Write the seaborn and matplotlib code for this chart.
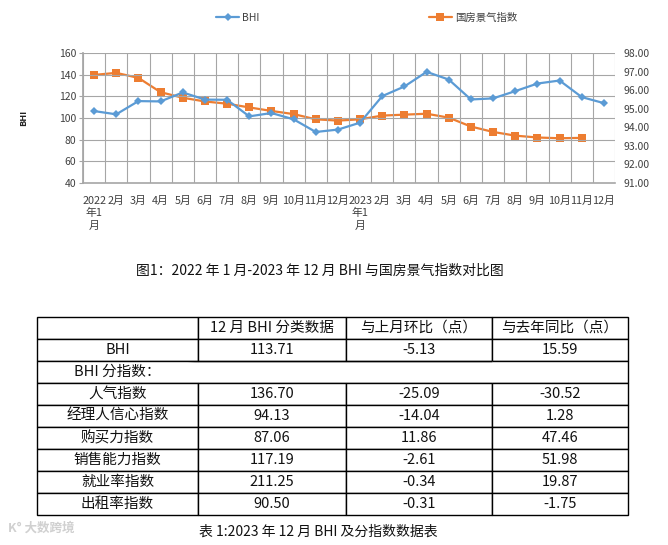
import numpy as np
import pandas as pd
import matplotlib
matplotlib.use("Agg")
import matplotlib.pyplot as plt
from matplotlib.lines import Line2D
import seaborn as sns

# ---------------- data ----------------
months = ["2022\n年1\n月", "2月", "3月", "4月", "5月", "6月", "7月", "8月", "9月", "10月", "11月", "12月",
          "2023\n年1\n月", "2月", "3月", "4月", "5月", "6月", "7月", "8月", "9月", "10月", "11月", "12月"]
bhi = [106.4, 103.4, 115.6, 115.3, 123.6, 117.0, 116.8, 101.5, 104.6, 98.8, 87.1, 89.3,
       95.7, 120.2, 129.1, 142.6, 135.5, 117.1, 118.1, 124.8, 131.8, 134.6, 119.3, 113.71]
gfjq = [96.82, 96.93, 96.66, 95.89, 95.59, 95.39, 95.27, 95.07, 94.88, 94.71, 94.43, 94.36,
        94.43, 94.63, 94.68, 94.73, 94.52, 94.04, 93.75, 93.55, 93.45, 93.41, 93.43, np.nan]
left_ticks = [40, 60, 80, 100, 120, 140, 160]
right_ticks = [91, 92, 93, 94, 95, 96, 97, 98]

table_header = ["", "12 月 BHI 分类数据", "与上月环比（点）", "与去年同比（点）"]
row_names = ["BHI", "BHI 分指数：", "人气指数", "经理人信心指数", "购买力指数", "销售能力指数", "就业率指数", "出租率指数"]
dec_values = [113.71, None, 136.70, 94.13, 87.06, 117.19, 211.25, 90.50]
mom_values = [-5.13, None, -25.09, -14.04, 11.86, -2.61, -0.34, -0.31]
yoy_values = [15.59, None, -30.52, 1.28, 47.46, 51.98, 19.87, -1.75]

caption1 = "图1：2022 年 1 月-2023 年 12 月 BHI 与国房景气指数对比图"
caption2 = "表 1:2023 年 12 月 BHI 及分指数数据表"

# ---------------- style ----------------
sns.set_theme(style="white")
plt.rcParams["font.family"] = ["Noto Sans CJK SC", "DejaVu Sans"]
plt.rcParams["axes.unicode_minus"] = False

BLUE = "#5B9BD5"
ORANGE = "#ED7D31"
GRID = "#A6A6A6"
TXT = "#404040"

W, H = 668, 545
fig = plt.figure(figsize=(W / 100, H / 100), dpi=100)

def fx(px):
    return px / W

def fy(py):
    return 1 - py / H

# ---------------- line chart ----------------
L, R, T, B = 83, 615, 53, 183
ax = fig.add_axes([fx(L), fy(B), fx(R - L), (B - T) / H])
ax2 = ax.twinx()

df = pd.DataFrame({"pos": np.arange(len(months)), "BHI": bhi, "国房景气指数": gfjq})

sns.lineplot(data=df, x="pos", y="国房景气指数", ax=ax2, color=ORANGE, linewidth=1.6,
             marker="s", markersize=5.5, markeredgewidth=0, zorder=3)
sns.lineplot(data=df, x="pos", y="BHI", ax=ax, color=BLUE, linewidth=1.6,
             marker="D", markersize=4, markeredgewidth=0, zorder=3)
ax.set_zorder(ax2.get_zorder() + 1)
ax.patch.set_visible(False)

n = len(months)
ax.set_xlim(-0.5, n - 0.5)
ax.set_ylim(left_ticks[0], left_ticks[-1])
ax2.set_ylim(right_ticks[0], right_ticks[-1])

ax.set_xticks(np.arange(-0.5, n, 1.0))
ax.set_xticklabels([])
ax.set_xticks(np.arange(n), minor=True)
ax.set_xticklabels(months, minor=True, fontsize=7.8, color=TXT, linespacing=1.3)
ax.tick_params(axis="x", which="major", length=3, width=0.8, color=GRID, direction="out")
ax.tick_params(axis="x", which="minor", length=0, pad=9)

ax.set_yticks(left_ticks)
ax.set_yticklabels([str(v) for v in left_ticks], fontsize=7.5, color=TXT)
ax.tick_params(axis="y", length=3, width=0.8, color=GRID, pad=2, left=True)

ax2.set_yticks(right_ticks)
ax2.set_yticklabels([f"{v:.2f}" for v in right_ticks], fontsize=7.5, color=TXT)
ax2.tick_params(axis="y", length=0, pad=6)

ax.grid(True, which="major", axis="both", color=GRID, linewidth=0.8)
ax2.grid(False)
for a in (ax, ax2):
    for s in a.spines.values():
        s.set_visible(False)
ax.spines["left"].set_visible(True)
ax.spines["left"].set_color(GRID)
ax.spines["bottom"].set_visible(True)
ax.spines["bottom"].set_color(GRID)
ax.spines["bottom"].set_linewidth(1.2)

ax.set_xlabel("")
ax2.set_ylabel("")
ax.set_ylabel("BHI", fontsize=6.5, fontweight="bold", color="#222222", labelpad=22)

# legend
h1 = Line2D([], [], color=BLUE, marker="D", markersize=4, linewidth=1.6, markeredgewidth=0)
h2 = Line2D([], [], color=ORANGE, marker="s", markersize=5.5, linewidth=1.6, markeredgewidth=0)
fig.legend([h1], ["BHI"], loc="center", bbox_to_anchor=(fx(238), fy(18)), frameon=False,
           fontsize=7.5, handlelength=2.2, handletextpad=0.3, labelcolor=TXT)
fig.legend([h2], ["国房景气指数"], loc="center", bbox_to_anchor=(fx(473), fy(18)), frameon=False,
           fontsize=7.5, handlelength=2.2, handletextpad=0.3, labelcolor=TXT)

# captions
fig.text(fx(320), fy(271), caption1, ha="center", va="center", fontsize=10, color="#111111")
fig.text(fx(318), fy(532), caption2, ha="center", va="center", fontsize=10, color="#111111")

# watermark
fig.text(fx(8), fy(528), "K° 大数跨境", ha="left", va="center", fontsize=9, color="#D0D0D0",
         fontweight="bold")

# ---------------- table ----------------
TL, TR, TT, TB = 37, 628, 317, 515
tax = fig.add_axes([fx(TL), fy(TB), fx(TR - TL), (TB - TT) / H])
tax.axis("off")

def fmt(v):
    return "" if v is None else f"{v:.2f}"

cells = [table_header]
for name, d, m, y in zip(row_names, dec_values, mom_values, yoy_values):
    cells.append([name, fmt(d), fmt(m), fmt(y)])

col_px = [198 - 37, 346 - 198, 492 - 346, 628 - 492]
col_w = [c / sum(col_px) for c in col_px]
tbl = tax.table(cellText=cells, colWidths=col_w, cellLoc="center", loc="center", bbox=[0, 0, 1, 1])
tbl.auto_set_font_size(False)
tbl.set_fontsize(10.5)
for (r, c), cell in tbl.get_celld().items():
    cell.set_edgecolor("black")
    cell.set_linewidth(1.0)
    cell.set_facecolor("white")
    cell.get_text().set_color("#111111")
    if r == 2:
        cell.visible_edges = {0: "BTL", 1: "BT", 2: "BT", 3: "BTR"}[c]

fig.savefig("out.png", dpi=100)
